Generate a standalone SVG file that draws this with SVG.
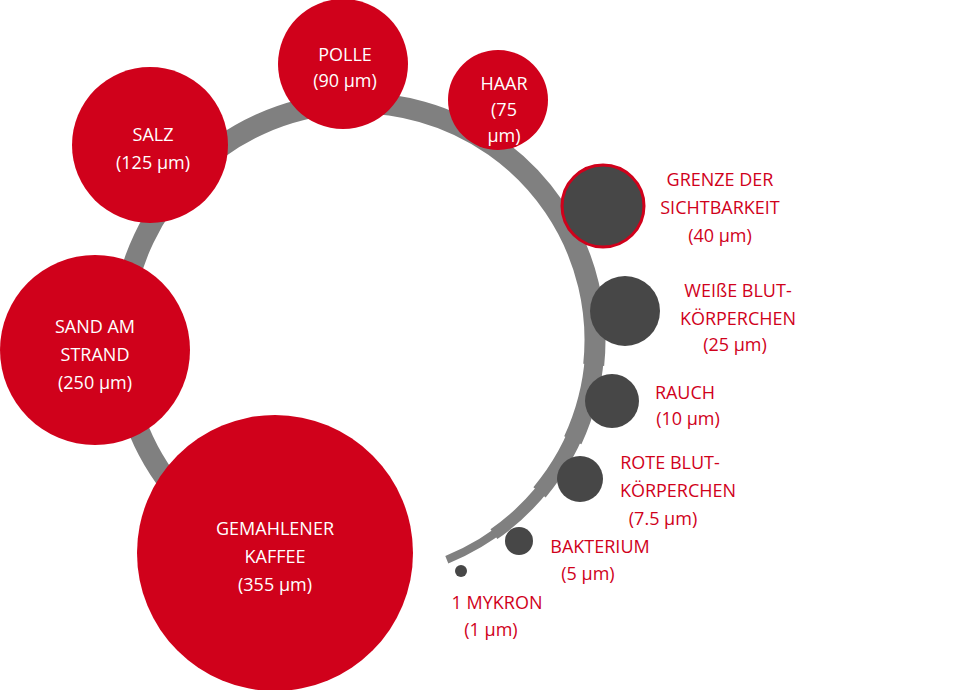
<svg xmlns="http://www.w3.org/2000/svg" width="980" height="690" viewBox="0 0 980 690">
<style>
.r{fill:#d0011b}
.d{fill:#474747}
.w{fill:#fff;font-family:"Open Sans","Liberation Sans",sans-serif;font-size:18px;text-anchor:middle}
.l{fill:#d0011b;font-family:"Open Sans","Liberation Sans",sans-serif;font-size:18px;text-anchor:middle}
.a{fill:none;stroke:#808080}
</style>
<g id="connectors">
<path class="a" stroke-width="8" d="M 446.8 559.7 A 237 237 0 1 0 222.1 534.2"/>
<path class="a" stroke-width="12" d="M 493.9 534.2 A 237 237 0 1 0 222.1 534.2"/>
<path class="a" stroke-width="16" d="M 539.5 492.3 A 237 237 0 1 0 222.1 534.2"/>
<path class="a" stroke-width="19" d="M 572.8 440.2 A 237 237 0 1 0 222.1 534.2"/>
<path class="a" stroke-width="21" d="M 593.7 364.8 A 237 237 0 1 0 222.1 534.2"/>
</g>
<g id="kaffee"><circle class="r" cx="275" cy="553" r="138"/><text class="w" x="275" y="535">GEMAHLENER</text><text class="w" x="275" y="563">KAFFEE</text><text class="w" x="275" y="591">(355 µm)</text></g>
<g id="sand"><circle class="r" cx="95" cy="350" r="95"/><text class="w" x="95" y="333">SAND AM</text><text class="w" x="95" y="361">STRAND</text><text class="w" x="95" y="389">(250 µm)</text></g>
<g id="salz"><circle class="r" cx="150" cy="145" r="78"/><text class="w" x="153" y="141">SALZ</text><text class="w" x="153" y="169">(125 µm)</text></g>
<g id="polle"><circle class="r" cx="343" cy="64" r="65"/><text class="w" x="345" y="61">POLLE</text><text class="w" x="345" y="87">(90 µm)</text></g>
<g id="haar"><circle class="r" cx="498" cy="100" r="50"/><text class="w" x="504" y="90">HAAR</text><text class="w" x="504" y="116">(75</text><text class="w" x="504" y="142">µm)</text></g>
<g id="grenze"><circle class="d" cx="603" cy="206" r="41" stroke="#d0011b" stroke-width="3"/><text class="l" x="720" y="186">GRENZE DER</text><text class="l" x="720" y="214">SICHTBARKEIT</text><text class="l" x="720" y="242">(40 µm)</text></g>
<g id="weisse"><circle class="d" cx="625" cy="311" r="35"/><text class="l" x="738" y="297">WEIßE BLUT-</text><text class="l" x="738" y="325">KÖRPERCHEN</text><text class="l" x="735" y="351">(25 µm)</text></g>
<g id="rauch"><circle class="d" cx="612" cy="401" r="27"/><text class="l" x="685" y="399">RAUCH</text><text class="l" x="688" y="425">(10 µm)</text></g>
<g id="rote"><circle class="d" cx="580" cy="479" r="23"/><text class="l" x="670" y="469">ROTE BLUT-</text><text class="l" x="678" y="497">KÖRPERCHEN</text><text class="l" x="663" y="525">(7.5 µm)</text></g>
<g id="bakterium"><circle class="d" cx="519" cy="541" r="14"/><text class="l" x="600" y="553">BAKTERIUM</text><text class="l" x="588" y="580">(5 µm)</text></g>
<g id="mykron"><circle class="d" cx="461" cy="571" r="6"/><text class="l" x="497" y="609">1 MYKRON</text><text class="l" x="491" y="636">(1 µm)</text></g>
</svg>
